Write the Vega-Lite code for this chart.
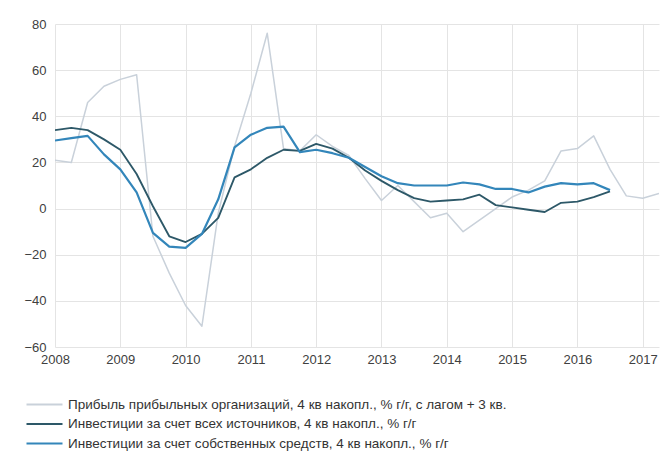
{
  "$schema": "https://vega.github.io/schema/vega-lite/v6.json",
  "width": 604,
  "height": 323,
  "autosize": {"type": "none"},
  "padding": {"left": 55, "top": 24, "right": 1, "bottom": 110},
  "background": "white",
  "config": {
    "view": {"stroke": null},
    "font": "Liberation Sans",
    "axis": {"labelFont": "Liberation Sans", "labelFontSize": 13, "labelColor": "#404040", "gridColor": "#e4e4e4", "gridWidth": 1, "domain": false, "ticks": false, "title": null},
    "legend": {"labelFont": "Liberation Sans", "labelFontSize": 13.5, "labelColor": "#333333"}
  },
  "data": {"values": [
    {"t": 2008.0, "s": "P", "v": 21},
    {"t": 2008.25, "s": "P", "v": 20},
    {"t": 2008.5, "s": "P", "v": 46},
    {"t": 2008.75, "s": "P", "v": 53},
    {"t": 2009.0, "s": "P", "v": 56},
    {"t": 2009.25, "s": "P", "v": 58},
    {"t": 2009.5, "s": "P", "v": -12},
    {"t": 2009.75, "s": "P", "v": -28},
    {"t": 2010.0, "s": "P", "v": -42},
    {"t": 2010.25, "s": "P", "v": -51},
    {"t": 2010.5, "s": "P", "v": -2},
    {"t": 2010.75, "s": "P", "v": 27},
    {"t": 2011.0, "s": "P", "v": 50},
    {"t": 2011.25, "s": "P", "v": 76},
    {"t": 2011.5, "s": "P", "v": 26},
    {"t": 2011.75, "s": "P", "v": 25},
    {"t": 2012.0, "s": "P", "v": 32},
    {"t": 2012.25, "s": "P", "v": 27},
    {"t": 2012.5, "s": "P", "v": 23},
    {"t": 2012.75, "s": "P", "v": 13},
    {"t": 2013.0, "s": "P", "v": 3.5},
    {"t": 2013.25, "s": "P", "v": 10},
    {"t": 2013.5, "s": "P", "v": 3},
    {"t": 2013.75, "s": "P", "v": -4},
    {"t": 2014.0, "s": "P", "v": -2},
    {"t": 2014.25, "s": "P", "v": -10},
    {"t": 2014.5, "s": "P", "v": -5},
    {"t": 2014.75, "s": "P", "v": 0},
    {"t": 2015.0, "s": "P", "v": 5},
    {"t": 2015.25, "s": "P", "v": 8},
    {"t": 2015.5, "s": "P", "v": 12},
    {"t": 2015.75, "s": "P", "v": 25},
    {"t": 2016.0, "s": "P", "v": 26},
    {"t": 2016.25, "s": "P", "v": 31.5},
    {"t": 2016.5, "s": "P", "v": 17},
    {"t": 2016.75, "s": "P", "v": 5.5},
    {"t": 2017.0, "s": "P", "v": 4.5},
    {"t": 2017.25, "s": "P", "v": 6.5},

    {"t": 2008.0, "s": "A", "v": 34},
    {"t": 2008.25, "s": "A", "v": 35},
    {"t": 2008.5, "s": "A", "v": 34},
    {"t": 2008.75, "s": "A", "v": 30},
    {"t": 2009.0, "s": "A", "v": 25.5},
    {"t": 2009.25, "s": "A", "v": 15},
    {"t": 2009.5, "s": "A", "v": 1},
    {"t": 2009.75, "s": "A", "v": -12},
    {"t": 2010.0, "s": "A", "v": -14.5},
    {"t": 2010.25, "s": "A", "v": -11},
    {"t": 2010.5, "s": "A", "v": -4},
    {"t": 2010.75, "s": "A", "v": 13.5},
    {"t": 2011.0, "s": "A", "v": 17},
    {"t": 2011.25, "s": "A", "v": 22},
    {"t": 2011.5, "s": "A", "v": 25.5},
    {"t": 2011.75, "s": "A", "v": 25},
    {"t": 2012.0, "s": "A", "v": 28},
    {"t": 2012.25, "s": "A", "v": 26},
    {"t": 2012.5, "s": "A", "v": 22},
    {"t": 2012.75, "s": "A", "v": 16.5},
    {"t": 2013.0, "s": "A", "v": 12},
    {"t": 2013.25, "s": "A", "v": 8},
    {"t": 2013.5, "s": "A", "v": 4.5},
    {"t": 2013.75, "s": "A", "v": 3},
    {"t": 2014.0, "s": "A", "v": 3.5},
    {"t": 2014.25, "s": "A", "v": 4},
    {"t": 2014.5, "s": "A", "v": 6},
    {"t": 2014.75, "s": "A", "v": 1.5},
    {"t": 2015.0, "s": "A", "v": 0.5},
    {"t": 2015.25, "s": "A", "v": -0.5},
    {"t": 2015.5, "s": "A", "v": -1.5},
    {"t": 2015.75, "s": "A", "v": 2.5},
    {"t": 2016.0, "s": "A", "v": 3},
    {"t": 2016.25, "s": "A", "v": 5},
    {"t": 2016.5, "s": "A", "v": 7.5},

    {"t": 2008.0, "s": "O", "v": 29.5},
    {"t": 2008.25, "s": "O", "v": 30.5},
    {"t": 2008.5, "s": "O", "v": 31.5},
    {"t": 2008.75, "s": "O", "v": 23.5},
    {"t": 2009.0, "s": "O", "v": 17},
    {"t": 2009.25, "s": "O", "v": 7},
    {"t": 2009.5, "s": "O", "v": -10.5},
    {"t": 2009.75, "s": "O", "v": -16.5},
    {"t": 2010.0, "s": "O", "v": -17},
    {"t": 2010.25, "s": "O", "v": -11},
    {"t": 2010.5, "s": "O", "v": 4},
    {"t": 2010.75, "s": "O", "v": 26.5},
    {"t": 2011.0, "s": "O", "v": 32},
    {"t": 2011.25, "s": "O", "v": 35},
    {"t": 2011.5, "s": "O", "v": 35.5},
    {"t": 2011.75, "s": "O", "v": 24.5},
    {"t": 2012.0, "s": "O", "v": 25.5},
    {"t": 2012.25, "s": "O", "v": 24},
    {"t": 2012.5, "s": "O", "v": 22},
    {"t": 2012.75, "s": "O", "v": 18},
    {"t": 2013.0, "s": "O", "v": 14},
    {"t": 2013.25, "s": "O", "v": 11},
    {"t": 2013.5, "s": "O", "v": 10},
    {"t": 2013.75, "s": "O", "v": 10},
    {"t": 2014.0, "s": "O", "v": 10},
    {"t": 2014.25, "s": "O", "v": 11.3},
    {"t": 2014.5, "s": "O", "v": 10.5},
    {"t": 2014.75, "s": "O", "v": 8.5},
    {"t": 2015.0, "s": "O", "v": 8.5},
    {"t": 2015.25, "s": "O", "v": 7},
    {"t": 2015.5, "s": "O", "v": 9.5},
    {"t": 2015.75, "s": "O", "v": 11},
    {"t": 2016.0, "s": "O", "v": 10.5},
    {"t": 2016.25, "s": "O", "v": 11},
    {"t": 2016.5, "s": "O", "v": 8}
  ]},
  "transform": [
    {"lookup": "s", "from": {"data": {"values": [
      {"s": "P", "name": "Прибыль прибыльных организаций, 4 кв накопл., % г/г, с лагом + 3 кв."},
      {"s": "A", "name": "Инвестиции за счет всех источников, 4 кв накопл., % г/г"},
      {"s": "O", "name": "Инвестиции за счет собственных средств, 4 кв накопл., % г/г"}
    ]}, "key": "s", "fields": ["name"]}}
  ],
  "mark": {"type": "line", "strokeJoin": "round", "clip": true},
  "encoding": {
    "x": {"field": "t", "type": "quantitative",
      "scale": {"domain": [2008, 2017.25], "nice": false, "zero": false},
      "axis": {"values": [2008, 2009, 2010, 2011, 2012, 2013, 2014, 2015, 2016, 2017], "format": "d", "labelPadding": 6, "labelFlush": false}},
    "y": {"field": "v", "type": "quantitative",
      "scale": {"domain": [-60, 80], "nice": false},
      "axis": {"values": [-60, -40, -20, 0, 20, 40, 60, 80], "labelPadding": 9}},
    "color": {"field": "name", "type": "nominal",
      "scale": {"domain": [
        "Прибыль прибыльных организаций, 4 кв накопл., % г/г, с лагом + 3 кв.",
        "Инвестиции за счет всех источников, 4 кв накопл., % г/г",
        "Инвестиции за счет собственных средств, 4 кв накопл., % г/г"
      ], "range": ["#c9d1da", "#2d5868", "#3386ba"]},
      "legend": {"title": null, "orient": "none", "legendX": -19, "legendY": 372, "direction": "vertical",
        "symbolType": "M-2.4,0H2.4", "symbolSize": 225, "symbolStrokeWidth": 2, "rowPadding": 4.5, "labelOffset": 15, "labelLimit": 600, "padding": 0}},
    "strokeWidth": {"field": "s", "type": "nominal",
      "scale": {"domain": ["P", "A", "O"], "range": [1.5, 2.2, 2.2]}, "legend": null},
    "order": {"field": "t", "type": "quantitative"}
  }
}
